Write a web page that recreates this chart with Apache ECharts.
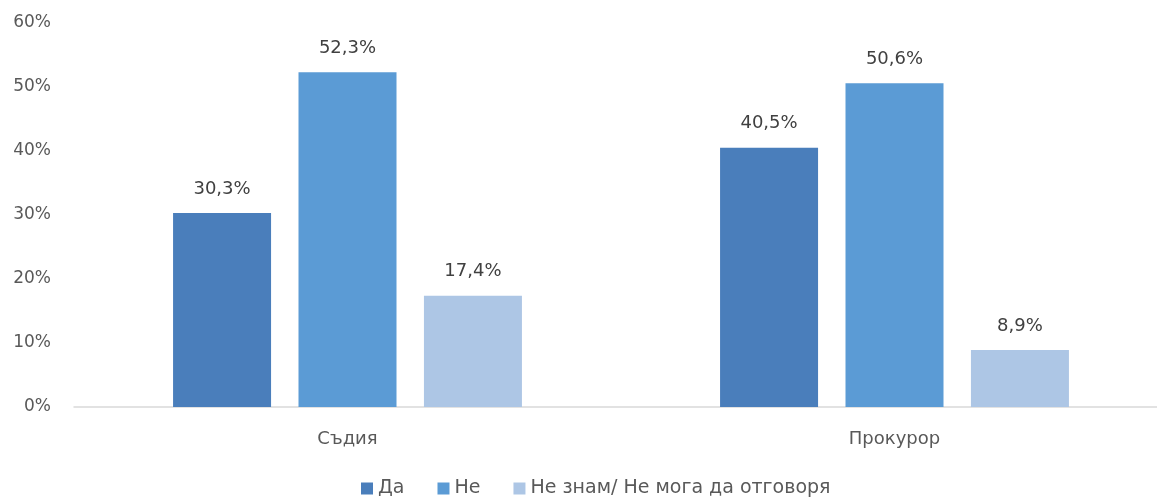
<!DOCTYPE html>
<html>
<head>
<meta charset="utf-8">
<script src="https://cdn.jsdelivr.net/npm/echarts@6/dist/echarts.min.js"></script>
<style>
  html, body { margin: 0; padding: 0; background: #fff; }
  #chart { width: 1157px; height: 502px; }
</style>
</head>
<body>
<div id="chart"></div>
<script>
// данни
const categories = ['Съдия', 'Прокурор']
const seriesNames = ['Да', 'Не', 'Не знам/ Не мога да отговоря']
const daValues = [30.3, 40.5]
const neValues = [52.3, 50.6]
const dkValues = [17.4, 8.9]
const colors = ['#4a7ebb', '#5b9bd5', '#adc6e5']

const chart = echarts.init(document.getElementById('chart'))
const font = '"DejaVu Sans", sans-serif'

const makeSeries = (name, data, color) => ({
  name: name,
  type: 'bar',
  data: data,
  barWidth: 98,
  barGap: '28%',
  itemStyle: { color: color },
  label: {
    show: true,
    position: 'top',
    distance: 15,
    color: '#404040',
    fontSize: 18,
    fontFamily: font,
    formatter: p => p.value.toFixed(1).replace('.', ',') + '%'
  }
})

chart.setOption({
  animation: false,
  textStyle: { fontFamily: font },
  // графикът излиза малко извън десния край, както в оригинала
  grid: { left: 74, top: 23, right: -11, bottom: 95, outerBoundsMode: 'none', containLabel: false },
  legend: {
    top: 479,
    left: 361,
    padding: 0,
    itemWidth: 12,
    itemHeight: 12,
    itemGap: 33,
    icon: 'rect',
    textStyle: { color: '#595959', fontSize: 19, fontFamily: font },
    data: seriesNames
  },
  xAxis: {
    type: 'category',
    data: categories,
    axisLine: { lineStyle: { color: '#d9d9d9', width: 1.5 } },
    axisTick: { show: false },
    axisLabel: { color: '#595959', fontSize: 18, margin: 23, fontFamily: font }
  },
  yAxis: {
    type: 'value',
    min: 0,
    max: 60,
    interval: 10,
    axisLine: { show: false },
    axisTick: { show: false },
    splitLine: { show: false },
    axisLabel: { color: '#595959', fontSize: 17, margin: 23, fontFamily: font, formatter: '{value}%' }
  },
  series: [
    makeSeries(seriesNames[0], daValues, colors[0]),
    makeSeries(seriesNames[1], neValues, colors[1]),
    makeSeries(seriesNames[2], dkValues, colors[2])
  ]
})
</script>
</body>
</html>
